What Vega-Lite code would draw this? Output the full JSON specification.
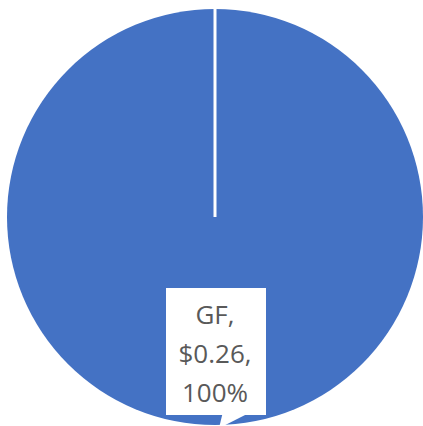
{
  "$schema": "https://vega.github.io/schema/vega-lite/v6.json",
  "width": 416,
  "height": 416,
  "padding": {"left": 7, "right": 0, "top": 7, "bottom": 3},
  "background": "white",
  "config": {"view": {"stroke": null}},
  "data": {"values": [{"category": "GF", "value": 0.26, "percent": "100%", "label": "GF,\n$0.26,\n100%"}]},
  "layer": [
    {
      "mark": {"type": "arc", "radius": 208, "stroke": null},
      "encoding": {
        "theta": {"field": "value", "type": "quantitative", "stack": true},
        "color": {"field": "category", "type": "nominal", "scale": {"range": ["#4472C4"]}, "legend": null}
      }
    },
    {
      "mark": {"type": "rule", "color": "white", "strokeWidth": 3},
      "encoding": {
        "x": {"datum": 0, "type": "quantitative", "scale": {"domain": [-208, 208], "nice": false, "zero": false}, "axis": null},
        "y": {"datum": 0, "type": "quantitative", "scale": {"domain": [-208, 208], "nice": false, "zero": false}, "axis": null},
        "y2": {"datum": 208}
      }
    },
    {
      "mark": {"type": "rect", "color": "white"},
      "encoding": {
        "x": {"datum": -49, "type": "quantitative"},
        "x2": {"datum": 51},
        "y": {"datum": -71, "type": "quantitative"},
        "y2": {"datum": -198}
      }
    },
    {
      "mark": {"type": "point", "filled": true, "color": "white", "opacity": 1, "size": 576, "shape": "M-0.83,-0.8 L1.17,-0.8 L1.17,-0.58 L-1.17,0.6 Z"},
      "encoding": {
        "x": {"datum": 18, "type": "quantitative"},
        "y": {"datum": -204, "type": "quantitative"}
      }
    },
    {
      "mark": {"type": "text", "font": "Open Sans", "fontSize": 26, "color": "#595959", "lineBreak": "\n", "lineHeight": 39, "align": "center", "baseline": "alphabetic"},
      "encoding": {
        "x": {"datum": 0, "type": "quantitative"},
        "y": {"datum": -107, "type": "quantitative"},
        "text": {"field": "label"}
      }
    }
  ]
}
